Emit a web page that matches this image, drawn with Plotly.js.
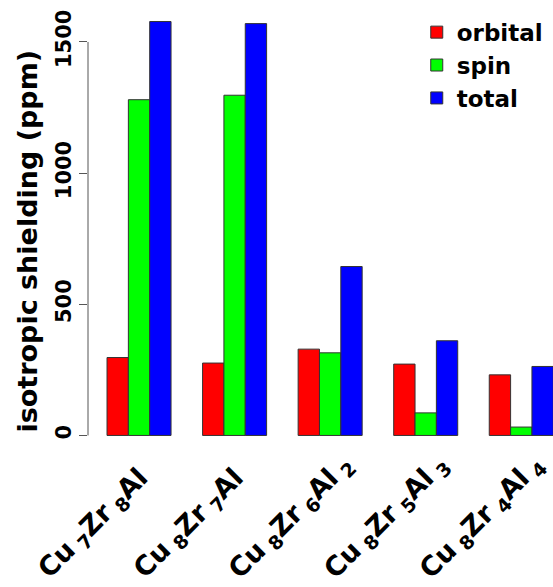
<!DOCTYPE html>
<html>
<head>
<meta charset="utf-8">
<script src="https://cdn.plot.ly/plotly-3.0.1.min.js"></script>
<style>html,body{margin:0;padding:0;background:#fff;}#chart{width:553px;height:587px;}</style>
</head>
<body>
<div id="chart"></div>
<script>
var categories = ["Cu7Zr8Al", "Cu8Zr7Al", "Cu8Zr6Al2", "Cu8Zr5Al3", "Cu8Zr4Al4"];
var tickLabels = [
  "Cu<sub> 7</sub>Zr<sub> 8</sub>Al",
  "Cu<sub> 8</sub>Zr<sub> 7</sub>Al",
  "Cu<sub> 8</sub>Zr<sub> 6</sub>Al<sub> 2</sub>",
  "Cu<sub> 8</sub>Zr<sub> 5</sub>Al<sub> 3</sub>",
  "Cu<sub> 8</sub>Zr<sub> 4</sub>Al<sub> 4</sub>"
];
var orbital = [297, 276, 329, 272, 231];
var spin = [1280, 1297, 315, 86, 32];
var total = [1578, 1570, 644, 361, 263];
var yTicks = [0, 500, 1000, 1500];

var F = {family: "DejaVu Sans", weight: "bold", color: "#000"};
function font(sz){ return {family: F.family, weight: F.weight, color: F.color, size: sz}; }

// labels without a trailing subscript sit a little lower-left in the original
var tickText = tickLabels.map(function(l){
  return /<\/sub>$/.test(l) ? l : l + "\u00a0\u00a0";
});

function series(name, vals, col){
  return {type: "bar", name: name, x: categories, y: vals,
    marker: {color: col, line: {color: "#333", width: 1}}, hoverinfo: "x+y+name"};
}
var data = [
  series("orbital", orbital, "#ff0000"),
  series("spin", spin, "#00ff00"),
  series("total", total, "#0000ff")
];

var layout = {
  width: 553, height: 587,
  margin: {l: 88, r: 0, t: 5, b: 145},
  paper_bgcolor: "#fff", plot_bgcolor: "#fff",
  barmode: "group", bargap: 0.33, bargroupgap: 0,
  showlegend: true,
  legend: {x: 0.707, y: 0.987, xanchor: "left", yanchor: "top", font: font(23),
    bgcolor: "rgba(0,0,0,0)", tracegroupgap: 0},
  xaxis: {type: "category", range: [-0.534, 4.332], tickmode: "array",
    tickvals: categories, ticktext: tickText, tickangle: -45,
    ticklabelshift: 14,
    showline: false, ticks: "", showgrid: false, zeroline: false,
    tickfont: font(27)},
  yaxis: {range: [-25, 1641], tickmode: "array", tickvals: yTicks,
    ticktext: yTicks.map(String), tickangle: -90, ticks: "outside",
    ticklen: 8, tickwidth: 1, tickcolor: "#555", showline: false,
    showgrid: false, zeroline: false, tickfont: font(21)},
  shapes: [{type: "line", xref: "paper", yref: "y", x0: 0, x1: 0,
    y0: Math.min.apply(null, yTicks), y1: Math.max.apply(null, yTicks),
    line: {color: "#555", width: 1}}],
  annotations: [{text: "isotropic shielding (ppm)", xref: "paper", yref: "paper",
    x: -0.131, y: 0.4588, textangle: -90, showarrow: false, font: font(27),
    xanchor: "center", yanchor: "middle"}]
};
Plotly.newPlot("chart", data, layout, {displayModeBar: false, staticPlot: true});
</script>
</body>
</html>
